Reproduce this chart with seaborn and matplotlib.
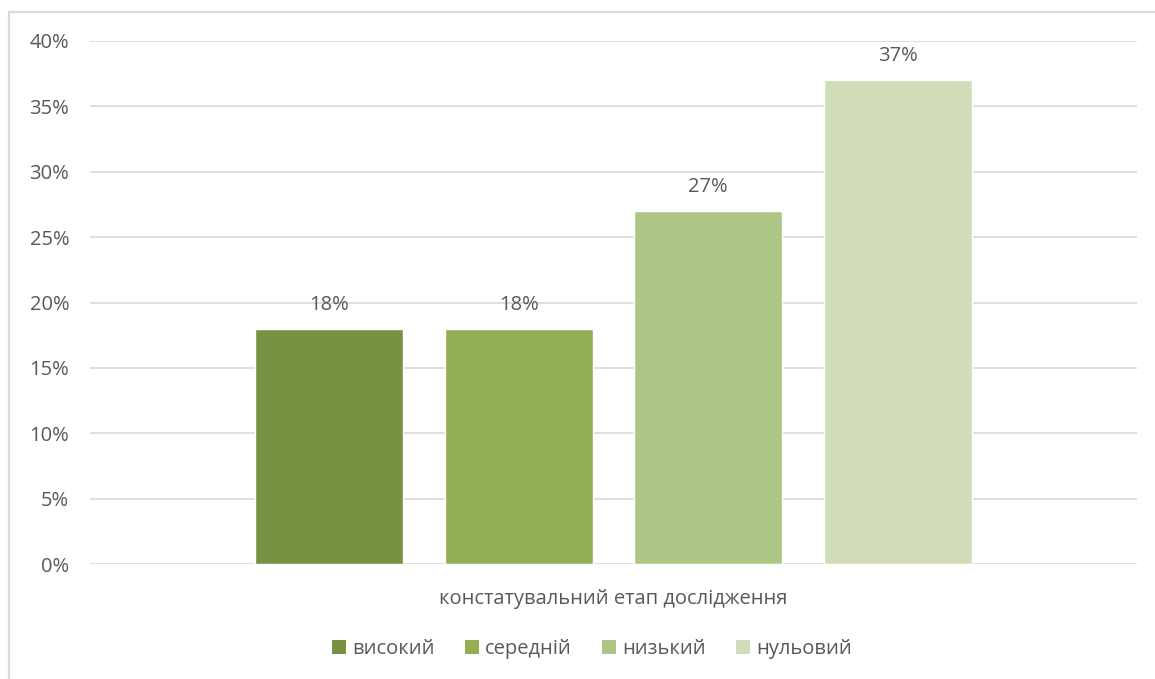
import matplotlib
matplotlib.use("Agg")
import matplotlib.pyplot as plt
from matplotlib.patches import Rectangle, Patch
from matplotlib.ticker import FuncFormatter, MultipleLocator
import pandas as pd
import seaborn as sns

# Data
stage = ["констатувальний етап дослідження"]
levels = ["високий", "середній", "низький", "нульовий"]
values = [18, 18, 27, 37]
colors = ["#799143", "#93AF56", "#ADC585", "#D0DDB8"]

df = pd.DataFrame({
    "етап": stage * len(levels),
    "рівень": levels,
    "значення": values,
})

sns.set_theme(style="white")
plt.rcParams["font.family"] = ["Open Sans", "DejaVu Sans"]
text_color = "#595959"
grid_color = "#D9D9D9"
fs = 14.5

W, H = 1155, 679
fig = plt.figure(figsize=(W / 100, H / 100), dpi=100)
fig.patch.set_facecolor("white")

# Outer chart frame (left and top edges visible)
frame = Rectangle((9 / W, -0.1), 1.2, 1.1 - 12 / H, transform=fig.transFigure,
                  fill=False, edgecolor=grid_color, linewidth=1.6, clip_on=False)
fig.patches.append(frame)

ax = fig.add_axes([90 / W, 115 / H, (1137 - 90) / W, (564 - 41) / H])

sns.barplot(data=df, x="етап", y="значення", hue="рівень", hue_order=levels,
            palette=colors, saturation=1, width=0.8, gap=0.219,
            ax=ax, legend=False, zorder=3)

ax.set_xlim(-0.5525, 0.5525)
ax.set_ylim(0, 40)
ax.yaxis.set_major_locator(MultipleLocator(5))
ax.yaxis.set_major_formatter(FuncFormatter(lambda v, _: f"{v:.0f}%"))
ax.grid(axis="y", color=grid_color, linewidth=1.2, zorder=0)
ax.set_axisbelow(True)
for s in ax.spines.values():
    s.set_visible(False)
ax.set_xlabel("")
ax.set_ylabel("")
ax.tick_params(axis="y", length=0, pad=15, labelsize=fs, labelcolor=text_color)
ax.tick_params(axis="x", length=0, pad=18, labelsize=fs, labelcolor=text_color)

for cont in ax.containers:
    ax.bar_label(cont, labels=[f"{v:.0f}%" for v in cont.datavalues],
                 padding=10, fontsize=fs, color=text_color)

handles = [Patch(facecolor=c, edgecolor="none", label=l) for c, l in zip(colors, levels)]
fig.legend(handles=handles, loc="center", bbox_to_anchor=(592 / W, 1 - 649 / H),
           ncol=4, frameon=False, fontsize=fs, labelcolor=text_color,
           handlelength=0.7, handleheight=0.7, handletextpad=0.3, columnspacing=1.5)

fig.savefig("out.png", dpi=100, facecolor="white")
